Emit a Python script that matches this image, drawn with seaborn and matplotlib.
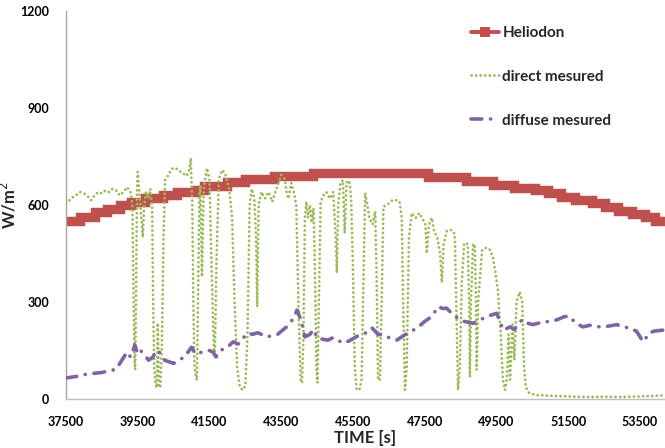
import matplotlib
matplotlib.use("Agg")
import matplotlib.pyplot as plt
from matplotlib.lines import Line2D
import seaborn as sns
import pandas as pd

# ---------------- data ----------------
helio_t = [37400, 37900, 38300, 38650, 39000, 39300, 39700, 40200, 40600, 41100,
           41350, 41990, 42500, 43300, 44400, 47600, 48650, 49400, 50000, 50570,
           50950, 51300, 51700, 52160, 52530, 52900, 53270, 53640, 53920, 54300]
helio_v = [550, 563, 578, 588, 600, 608, 621, 631, 641, 646,
           658, 671, 680, 690, 699, 686, 673, 662, 654, 645,
           636, 625, 615, 605, 594, 582, 572, 562, 550, 550]

direct_t = [37500, 37600, 37700, 37800, 37900, 38000, 38100, 38200, 38300, 38400,
            38500, 38600, 38700, 38800, 38900, 39000, 39100, 39200, 39300, 39350,
            39380, 39410, 39430, 39450, 39480, 39500, 39540, 39600, 39640, 39680,
            39730, 39800, 39850, 39900, 39930, 39960, 39990, 40030, 40060, 40090,
            40130, 40170, 40220, 40260, 40340, 40450, 40550, 40650, 40750, 40850,
            40920, 40980, 41020, 41050, 41080, 41120, 41150, 41180, 41220, 41250,
            41290, 41340, 41430, 41500, 41560, 41620, 41650, 41690, 41760, 41850,
            41930, 42050, 42130, 42200, 42270, 42340, 42420, 42500, 42560, 42620,
            42680, 42750, 42800, 42830, 42870, 42950, 43050, 43150, 43250, 43300,
            43400, 43500, 43600, 43650, 43700, 43780, 43850, 43920, 43980, 44040,
            44080, 44120, 44160, 44200, 44250, 44300, 44350, 44400, 44440, 44480,
            44510, 44550, 44600, 44680, 44760, 44850, 44950, 45020, 45050, 45090,
            45150, 45220, 45270, 45320, 45400, 45450, 45500, 45550, 45600, 45680,
            45740, 45800, 45840, 45900, 45960, 46050, 46120, 46160, 46200, 46250,
            46300, 46350, 46450, 46600, 46700, 46800, 46860, 46900, 46950, 47000,
            47060, 47140, 47250, 47350, 47450, 47520, 47560, 47620, 47700, 47760,
            47850, 47930, 47980, 48030, 48120, 48250, 48340, 48380, 48430, 48480,
            48530, 48600, 48700, 48740, 48760, 48790, 48850, 48900, 48930, 48950,
            48990, 49100, 49200, 49300, 49400, 49460, 49540, 49620, 49680, 49740,
            49790, 49840, 49880, 49950, 50000, 50060, 50150, 50220, 50270, 50320,
            50400, 50500, 50650, 51000, 51500, 52000, 52500, 53000, 53500, 54000,
            54200]
direct_v = [605, 615, 625, 632, 640, 636, 628, 615, 630, 640,
            636, 645, 640, 650, 645, 630, 640, 655, 640, 600,
            350, 110, 90, 300, 650, 702, 650, 560, 500, 600,
            640, 620, 650, 600, 300, 100, 50, 35, 235, 40,
            35, 150, 500, 677, 690, 712, 715, 705, 700, 690,
            700, 745, 600, 300, 110, 70, 58, 300, 640, 660,
            378, 650, 714, 680, 400, 160, 130, 400, 680, 708,
            700, 650, 560, 300, 100, 40, 28, 40, 200, 600,
            650, 620, 500, 285, 600, 640, 620, 640, 610, 628,
            660, 693, 680, 640, 620, 668, 640, 600, 300, 60,
            50, 200, 560, 610, 560, 600, 545, 590, 400, 100,
            50, 300, 610, 630, 640, 620, 640, 500, 390, 600,
            668, 677, 513, 670, 675, 620, 400, 100, 30, 28,
            60, 400, 637, 600, 560, 540, 580, 380, 60, 58,
            300, 595, 600, 615, 615, 610, 560, 300, 28, 100,
            500, 575, 560, 575, 555, 540, 450, 540, 560, 520,
            500, 450, 360, 480, 520, 523, 510, 300, 28, 100,
            350, 482, 480, 300, 68, 300, 480, 470, 300, 90,
            300, 460, 467, 465, 440, 400, 337, 200, 60, 28,
            60, 200, 60, 230, 120, 300, 331, 300, 100, 37,
            20, 15, 12, 10, 8, 6, 7, 6, 8, 10,
            12]

diffuse_t = [37500, 37800, 38080, 38500, 38900, 39200, 39300, 39420, 39500, 39580,
             39700, 39800, 39930, 40000, 40100, 40250, 40500, 40800, 41000, 41100,
             41300, 41500, 41600, 41680, 41800, 42000, 42160, 42300, 42450, 42580,
             42700, 42850, 43100, 43400, 43650, 43850, 43940, 44050, 44160, 44300,
             44400, 44500, 44650, 44800, 44950, 45220, 45400, 45600, 45800, 46030,
             46200, 46340, 46500, 46720, 46900, 47030, 47300, 47500, 47700, 47870,
             48000, 48110, 48300, 48480, 48600, 48850, 49050, 49230, 49510, 49690,
             49880, 50000, 50210, 50350, 50510, 50800, 51000, 51190, 51400, 51550,
             51700, 51910, 52100, 52380, 52600, 52860, 53050, 53220, 53400, 53520,
             53580, 53650, 53750, 53900, 54140]
diffuse_v = [65, 70, 77, 82, 92, 145, 130, 167, 140, 150,
             135, 120, 130, 150, 145, 120, 110, 130, 160, 140,
             145, 150, 145, 130, 150, 160, 177, 170, 190, 204,
             200, 205, 192, 200, 223, 250, 275, 245, 192, 200,
             215, 190, 185, 182, 190, 173, 180, 193, 200, 220,
             200, 198, 190, 182, 195, 204, 220, 240, 255, 285,
             280, 281, 260, 245, 240, 234, 245, 255, 265, 213,
             223, 215, 245, 235, 230, 238, 240, 245, 255, 255,
             235, 223, 228, 223, 225, 230, 222, 220, 210, 190,
             177, 185, 204, 210, 213]

x_ticks = [37500, 39500, 41500, 43500, 45500, 47500, 49500, 51500, 53500]
y_ticks = [0, 300, 600, 900, 1200]
labels = ["Heliodon", "direct mesured", "diffuse mesured"]

# ---------------- style ----------------
sns.set_theme(style="white")
plt.rcParams["font.family"] = ["Lato", "DejaVu Sans"]

RED = "#C0504D"
GREEN = "#9BBB59"
PURPLE = "#8064A2"
DOT = (0, (0.05, 1.6))
DASHDOT = (0, (3.0, 2.4, 0.05, 2.4))

fig = plt.figure(figsize=(6.65, 4.48), dpi=100)
ax = fig.add_axes([66 / 665, 49 / 448, 599 / 665, 388 / 448])

df_h = pd.DataFrame({"t": helio_t, "v": helio_v})
df_d = pd.DataFrame({"t": direct_t, "v": direct_v})
df_f = pd.DataFrame({"t": diffuse_t, "v": diffuse_v})

sns.lineplot(data=df_h, x="t", y="v", ax=ax, color=RED, lw=6.8,
             drawstyle="steps-post", estimator=None, sort=False,
             solid_joinstyle="miter", zorder=2)
sns.lineplot(data=df_d, x="t", y="v", ax=ax, color=GREEN, lw=2.0,
             linestyle=DOT, dash_capstyle="round",
             estimator=None, sort=False, zorder=3)
sns.lineplot(data=df_f, x="t", y="v", ax=ax, color=PURPLE, lw=2.6,
             linestyle=DASHDOT, dash_capstyle="round",
             estimator=None, sort=False, zorder=4)

ax.set_xlim(37500, 54200)
ax.set_ylim(0, 1200)
ax.set_xticks(x_ticks)
ax.set_yticks(y_ticks)
ax.set_xticklabels([str(v) for v in x_ticks])
ax.set_yticklabels([str(v) for v in y_ticks])
ax.tick_params(axis="both", length=0, labelsize=9, colors="black")
ax.tick_params(axis="x", pad=12)
ax.tick_params(axis="y", pad=12)
for lab in ax.get_xticklabels() + ax.get_yticklabels():
    lab.set_fontweight("bold")

ax.set_xlabel("TIME [s]", fontsize=12, fontweight="bold")
ax.xaxis.set_label_coords(0.5, -31 / 388, transform=ax.transAxes)
ax.set_ylabel("W/m$^2$", fontsize=12, fontweight="bold")
ax.yaxis.set_label_coords(-47 / 599, 0.5, transform=ax.transAxes)

for side in ["top", "right"]:
    ax.spines[side].set_visible(False)
ax.spines["left"].set_color("#A6A6A6")
ax.spines["bottom"].set_color("#BFBFBF")
ax.spines["left"].set_linewidth(1.0)
ax.spines["bottom"].set_linewidth(1.0)
ax.grid(False)

handles = [
    Line2D([0], [0], color=RED, lw=2.8, marker="s", markersize=7.5, markeredgewidth=0),
    Line2D([0], [0], color=GREEN, lw=2.0, linestyle=DOT, dash_capstyle="round"),
    Line2D([0], [0], color=PURPLE, lw=2.6, linestyle=DASHDOT, dash_capstyle="round"),
]
leg = fig.legend(handles, labels, loc="upper left", bbox_to_anchor=(471 / 665, 1 - 26 / 448),
                 frameon=False, fontsize=11, handlelength=1.85, handletextpad=0.2,
                 labelspacing=1.95, borderpad=0, borderaxespad=0)
for t in leg.get_texts():
    t.set_fontweight("bold")

fig.savefig("out.png", dpi=100)
